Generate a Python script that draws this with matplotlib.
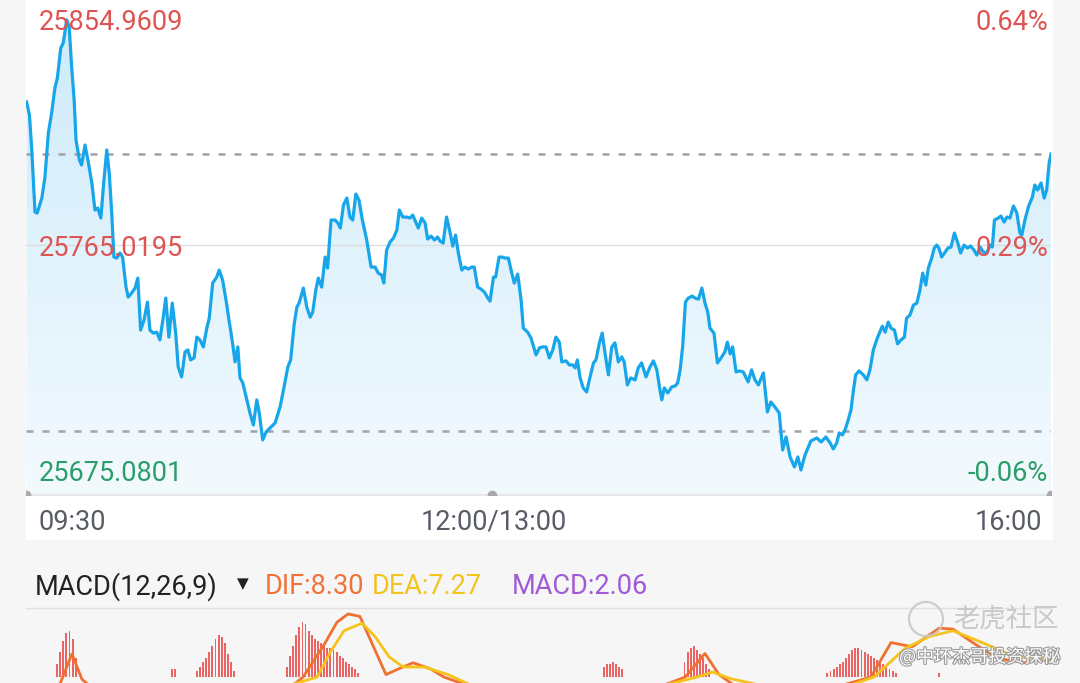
import numpy as np
import matplotlib
matplotlib.use("Agg")
import matplotlib.pyplot as plt
from matplotlib.patches import Rectangle, Ellipse
from matplotlib.colors import LinearSegmentedColormap
from matplotlib.transforms import offset_copy
import matplotlib.patheffects as pe

plt.rcParams['font.family'] = ['Roboto', 'DejaVu Sans']

# intraday price, minutes since 09:30 (lunch break removed: 150 = 12:00/13:00, 330 = 16:00)
t_min = [0.2, 1.1, 1.8, 2.9, 3.6, 5.1, 6.1, 7.2, 8.3, 9.3, 10.1, 11.2, 12.0, 13.1, 13.9, 14.7, 15.5, 16.1,
         17.2, 17.9, 19.0, 20.1, 21.2, 22.2, 23.1, 24.1, 25.1, 26.0, 26.8, 27.6, 28.3, 29.2, 30.3, 31.1,
         32.2, 32.9, 34.0, 35.1, 36.0, 36.9, 38.0, 39.1, 39.9, 41.0, 42.1, 43.1, 44.2, 45.0, 46.0, 47.1,
         48.2, 49.0, 50.1, 51.2, 52.1, 53.0, 54.1, 55.0, 56.0, 57.1, 58.2, 59.0, 60.1, 61.4, 62.2, 63.3,
         64.4, 65.5, 66.5, 67.3, 68.2, 68.9, 69.8, 71.1, 72.1, 73.2, 74.3, 75.1, 76.2, 77.3, 78.6, 80.2,
         81.8, 82.9, 84.3, 85.2, 86.3, 87.2, 87.9, 89.3, 90.4, 91.5, 92.3, 93.3, 94.1, 95.2, 96.3, 97.1,
         98.2, 99.5, 100.4, 101.2, 102.2, 103.3, 104.3, 105.2, 106.2, 107.2, 108.3, 109.7, 111.1, 112.4,
         113.4, 114.5, 115.2, 116.1, 117.2, 118.3, 119.4, 120.2, 121.3, 122.6, 123.6, 124.5, 125.2, 126.3,
         127.4, 128.5, 129.3, 130.4, 131.5, 132.5, 133.3, 134.3, 135.4, 136.5, 137.4, 138.3, 139.2, 140.3,
         141.3, 142.4, 143.5, 144.3, 145.4, 146.5, 147.6, 148.7, 149.4,
         150.5, 151.2, 152.3, 153.4, 154.2, 155.3, 156.4, 157.2, 158.3, 159.4, 160.1, 161.5, 162.6, 164.2,
         165.3, 166.4, 167.4, 168.5, 169.6, 170.6, 171.7, 172.5, 173.9, 174.9, 176.0, 176.8, 177.5, 178.4,
         179.4, 180.5, 181.6, 182.7, 183.5, 184.6, 185.5, 186.4, 187.5, 188.6, 189.6, 190.7, 191.8, 192.6,
         193.6, 194.7, 196.1, 197.1, 198.2, 199.6, 200.9, 202.0, 203.1, 204.1, 204.7, 205.5, 206.6, 207.9,
         209.0, 209.8, 210.6, 211.4, 212.3, 213.2, 214.5, 215.4, 216.5, 217.6, 218.6, 219.5, 220.2, 221.5,
         222.6, 224.0, 225.0, 225.8, 226.7, 227.5, 228.6, 229.7, 230.9, 232.5, 233.6, 234.7, 235.8, 237.4,
         238.7, 239.8, 241.1, 242.5, 243.6, 244.7, 246.0, 247.4, 248.5, 249.5, 250.8, 252.7, 254.6, 256.0,
         257.5, 258.9, 259.9, 261.0, 261.8, 262.8, 263.7, 264.7, 265.6, 266.4, 267.1, 268.2, 269.6, 270.7,
         271.7, 272.8, 274.2, 275.7, 276.6, 277.6, 278.5, 279.6, 280.6, 281.7, 282.8, 283.5, 284.6, 285.7,
         286.8, 287.8, 288.7, 289.7, 290.5, 291.6, 292.4, 293.2, 293.9, 294.8, 295.7, 296.8, 297.8, 298.9,
         300.0, 300.9, 302.0, 303.1, 304.1, 305.2, 306.1, 307.2, 308.2, 309.3, 310.4, 311.1, 311.8, 313.0,
         313.9, 314.9, 315.8, 316.8, 317.9, 319.0, 320.0, 320.6, 321.6, 322.7, 324.0, 324.8, 325.7, 326.8,
         327.8, 328.6, 329.4, 330.0]
price = [25822.2, 25817.0, 25804.2, 25778.2, 25777.8, 25783.8, 25792.2, 25809.8, 25818.2, 25827.8, 25831.8,
         25843.8, 25845.8, 25855.0, 25852.2, 25836.2, 25823.0, 25807.0, 25799.0, 25797.0, 25805.0, 25797.8,
         25789.8, 25779.0, 25779.8, 25775.8, 25791.0, 25803.0, 25793.8, 25777.8, 25760.2, 25759.8, 25761.8,
         25760.2, 25748.2, 25744.2, 25745.8, 25747.8, 25751.8, 25731.0, 25735.0, 25742.2, 25731.0, 25729.8,
         25730.2, 25727.1, 25736.2, 25743.8, 25728.2, 25741.8, 25729.8, 25716.3, 25712.3, 25722.3, 25723.1,
         25719.1, 25719.9, 25728.2, 25727.1, 25724.3, 25731.8, 25735.8, 25749.8, 25752.2, 25755.0, 25751.0,
         25743.0, 25733.8, 25725.9, 25718.3, 25724.3, 25711.9, 25709.9, 25703.1, 25697.9, 25693.1, 25703.1,
         25697.9, 25687.1, 25690.3, 25691.9, 25693.9, 25700.3, 25707.1, 25716.3, 25719.1, 25733.0, 25740.2,
         25741.8, 25747.8, 25740.2, 25736.2, 25738.2, 25747.0, 25751.8, 25748.2, 25760.2, 25755.8, 25775.0,
         25775.0, 25773.8, 25771.8, 25781.0, 25783.8, 25776.2, 25775.0, 25785.4, 25783.0, 25775.0, 25767.0,
         25756.2, 25756.2, 25753.8, 25753.0, 25749.8, 25763.0, 25766.2, 25767.8, 25771.0, 25779.0, 25776.2,
         25776.2, 25775.8, 25777.0, 25775.0, 25771.8, 25775.8, 25773.8, 25767.4, 25768.6, 25767.0, 25768.2,
         25766.6, 25765.8, 25776.2, 25770.2, 25764.6, 25769.0, 25761.8, 25755.0, 25756.2, 25755.4, 25756.2,
         25756.2, 25748.2, 25747.4, 25746.2, 25743.8, 25742.6,
         25752.2, 25752.2, 25760.2, 25760.2, 25759.8, 25759.8, 25753.8, 25749.8, 25753.4, 25743.0, 25731.8,
         25730.2, 25727.8, 25721.1, 25723.9, 25724.3, 25724.3, 25719.9, 25723.1, 25728.2, 25726.2, 25718.3,
         25718.7, 25717.1, 25717.1, 25715.9, 25719.1, 25711.9, 25707.9, 25706.3, 25712.3, 25717.9, 25719.1,
         25725.9, 25729.8, 25721.9, 25713.1, 25724.3, 25725.9, 25718.3, 25720.3, 25718.3, 25709.1, 25711.9,
         25711.1, 25715.9, 25717.9, 25712.3, 25716.3, 25718.7, 25715.1, 25707.1, 25703.1, 25707.9, 25705.9,
         25708.3, 25708.7, 25709.9, 25715.1, 25724.3, 25742.2, 25743.8, 25744.6, 25743.8, 25743.4, 25747.8,
         25741.8, 25738.2, 25731.8, 25729.8, 25717.9, 25720.3, 25722.3, 25726.2, 25721.5, 25724.3, 25714.3,
         25714.7, 25714.3, 25710.3, 25715.1, 25711.1, 25709.1, 25713.9, 25698.3, 25702.3, 25700.3, 25697.9,
         25683.1, 25688.3, 25680.3, 25676.3, 25680.3, 25675.1, 25681.1, 25686.7, 25687.9, 25686.3, 25688.3,
         25685.9, 25683.5, 25685.9, 25689.9, 25689.1, 25691.1, 25695.1, 25699.1, 25707.1, 25713.1, 25714.7,
         25713.1, 25711.1, 25715.1, 25723.1, 25728.2, 25732.6, 25730.2, 25734.2, 25731.8, 25731.0, 25725.5,
         25727.1, 25728.2, 25735.8, 25737.0, 25741.0, 25741.8, 25747.0, 25753.8, 25749.0, 25755.8, 25759.8,
         25763.8, 25765.0, 25763.8, 25760.2, 25761.8, 25763.8, 25764.2, 25769.8, 25765.8, 25761.8, 25765.0,
         25763.8, 25764.6, 25763.0, 25761.0, 25764.2, 25762.2, 25761.8, 25765.0, 25764.2, 25775.0, 25775.8,
         25776.6, 25774.2, 25776.2, 25775.8, 25780.6, 25777.8, 25769.8, 25769.0, 25775.0, 25780.2, 25784.2,
         25789.0, 25787.0, 25789.8, 25783.8, 25787.0, 25797.8, 25801.4]

high_val = 25854.9609
mid_val = 25765.0195
low_val = 25675.0801
prev_close = 25690.5
high_pct, mid_pct, low_pct = "0.64%", "0.29%", "-0.06%"
x_labels = ["09:30", "12:00/13:00", "16:00"]

# MACD(12,26,9) - only upper part of the panel is visible
hist_min = [10, 11, 12, 13, 14, 15, 16, 47, 48,
            55, 56, 57, 58, 59, 60, 61, 62, 63, 64, 65, 66, 67,
            84, 85, 86, 87, 88, 89, 90, 91, 92, 93, 94, 95, 96, 97, 98, 99, 100, 101, 102, 103, 104, 105, 106, 107,
            186, 187, 188, 189, 190, 191, 192,
            212, 213, 214, 215, 216, 217, 218, 219, 220,
            258, 259, 260, 261, 262, 263, 264, 265, 266, 267, 268, 269, 270, 271, 272, 273, 274, 275, 276, 277, 278, 279, 280,
            294]
hist_val = [6, 12, 17, 21, 22, 18, 9, 4, 4,
            3, 5, 7, 9, 12, 15, 18, 20, 19, 16, 11, 7, 3,
            5, 10, 15, 20, 24, 26, 25, 22, 20, 18, 17, 16, 15, 14, 14, 13, 12, 10, 9, 7, 6, 5, 4, 2,
            5, 6, 6, 7, 6, 5, 4,
            7, 12, 14, 15, 13, 11, 9, 6, 4,
            2, 3, 4, 5, 6, 7, 9, 11, 13, 14, 14, 13, 12, 11, 10, 9, 8, 7, 6, 5, 4, 3, 2,
            2]
dif_min = [8, 11, 14.8, 18, 22, 60, 85, 89.2, 95.9, 100.1, 103.7, 107.5, 111.4, 115.9, 120.1, 124.6, 130.1, 134.6,
           150, 205, 212.2, 218.6, 223.1, 230, 260, 272, 278.5, 285.3, 294, 298.4, 305.2, 312.9, 321.9, 327.4, 330]
dif_val = [-8, -3, 11, -1, -6, -8, -5, 0, 15.2, 26, 30, 28.8, 16, 1.2, 4.0, 6.8, 4.0, 0,
           -8, -4, 0, 11.2, 1.2, -6, -5, 0, 16.4, 14.4, 23.2, 22.8, 16.0, 8.8, 6.8, 8.8, 8.30]
dea_min = [80, 93.7, 98.2, 102.4, 108.2, 112.4, 116.9, 121.4, 128.1, 135.9, 145, 205, 216, 221, 227, 240,
           265, 273, 283, 290.7, 298.4, 305.2, 309.7, 318.4, 327.4, 330]
dea_val = [-6, 0, 12.4, 22.0, 25.6, 19.2, 9.6, 4.8, 4.8, 1.2, -5, -4, 0, 2.4, -0.8, -5,
           -4, 0, 13.6, 19.2, 22.0, 18.0, 15.2, 9.6, 8.8, 7.27]
macd_text = ["DIF:8.30", "DEA:7.27", "MACD:2.06"]

W, H = 1080, 683
fig = plt.figure(figsize=(W / 100, H / 100), dpi=100, facecolor='#f6f6f6')

def fx(px):
    return px / W

def fy(py):
    return 1 - py / H

# white card behind the price chart
fig.patches.append(Rectangle((fx(26), fy(540)), fx(1053 - 26), 540 / H, transform=fig.transFigure,
                             facecolor='white', edgecolor='none', zorder=-5))

ax = fig.add_axes([fx(26), fy(495), fx(1025), 495 / H])
ax.set_facecolor('none')
ymin, ymax = 25665.1, 25862.95
ax.set_xlim(0, 330)
ax.set_ylim(ymin, ymax)
ax.axis('off')

red = '#de5452'
green = '#2b9d6a'
blue = '#17a6ea'

# gradient fill under the line
poly = ax.fill_between(t_min, price, ymin, facecolor='none', edgecolor='none')
cmap = LinearSegmentedColormap.from_list('fade', ['#f3fafe', '#cdeafa'])
grad = np.linspace(0, 1, 256).reshape(-1, 1)
im = ax.imshow(grad, extent=[0, 330, ymin, ymax], origin='lower', aspect='auto', cmap=cmap, zorder=1)
im.set_clip_path(poly.get_paths()[0], transform=ax.transData)

ax.axhline(mid_val, color='#dcdcdc', lw=0.9, zorder=2)
ax.axhline(prev_close, color='#a3a3a3', lw=1.8, ls=(0, (2.8, 3.6)), zorder=2)
ax.axhline(price[-1], color='#a3a3a3', lw=1.8, ls=(0, (2.8, 3.6)), zorder=2)
ax.axhline(ymin, color='#e3e3e3', lw=1.2, zorder=2, clip_on=False)
ax.plot(t_min, price, color=blue, lw=2.3, zorder=4, solid_joinstyle='round')
ax.plot([0, 150, 330], [ymin] * 3, 'o', color='#a9a9a9', ms=6, zorder=5, clip_on=True)

fs = 19.5
lab_tr = offset_copy(ax.transData, fig=fig, y=-3, units='dots')
ax.text(4, high_val, f"{high_val:.4f}", color=red, fontsize=fs, va='center', ha='left', zorder=6, transform=lab_tr)
ax.text(4, mid_val, f"{mid_val:.4f}", color=red, fontsize=fs, va='center', ha='left', zorder=6, transform=lab_tr)
ax.text(4, low_val, f"{low_val:.4f}", color=green, fontsize=fs, va='center', ha='left', zorder=6, transform=lab_tr)
ax.text(329, high_val, high_pct, color=red, fontsize=fs, va='center', ha='right', zorder=6, transform=lab_tr)
ax.text(329, mid_val, mid_pct, color=red, fontsize=fs, va='center', ha='right', zorder=6, transform=lab_tr)
ax.text(329, low_val, low_pct, color=green, fontsize=fs, va='center', ha='right', zorder=6, transform=lab_tr)

lab_c = '#585c66'
fig.text(fx(38), fy(522), x_labels[0], color=lab_c, fontsize=fs, va='center', ha='left')
fig.text(fx(494), fy(522), x_labels[1], color=lab_c, fontsize=fs, va='center', ha='center')
fig.text(fx(1042), fy(522), x_labels[2], color=lab_c, fontsize=fs, va='center', ha='right')

# MACD header
fig.text(fx(35), fy(587), "MACD(12,26,9)", color='#222222', fontsize=fs, va='center', ha='left')
fig.text(fx(243), fy(584), "\u25bc", color='#222222', fontsize=11, va='center', ha='center',
         family=['DejaVu Sans'])
fig.text(fx(265), fy(587), macd_text[0], color='#f07237', fontsize=fs, va='center', ha='left')
fig.text(fx(372), fy(587), macd_text[1], color='#f2c41c', fontsize=fs, va='center', ha='left')
fig.text(fx(512), fy(587), macd_text[2], color='#a05ad6', fontsize=fs, va='center', ha='left')

# MACD panel, cut by the bottom of the image
mx = fig.add_axes([fx(26), fy(683), fx(1025), 75 / H])
mx.set_xlim(0, 330)
mx.set_ylim(-2.8, 32.8)
mx.axis('off')
mx.plot([0, 330], [32.8, 32.8], color='#e0e0e0', lw=1.0, clip_on=False)
mx.bar(hist_min, hist_val, width=0.6, color='#ea6464', zorder=2)
mx.plot(dif_min, dif_val, color='#f0702f', lw=2.0, zorder=3)
mx.plot(dea_min, dea_val, color='#f5c31a', lw=2.0, zorder=3)

# watermark
fig.patches.append(Ellipse((fx(926), fy(619)), 34 / W, 34 / H, transform=fig.transFigure, facecolor='none',
                           edgecolor='#c8c8c8', lw=1.6, alpha=0.9))
fig.text(fx(953), fy(619), "老虎社区", color='#c4c4c4', fontsize=19, va='center', ha='left',
         family=['Noto Sans CJK SC'], alpha=0.9)
fig.text(fx(1060), fy(657), "@中环杰哥投资探秘", color='white', fontsize=13, va='center', ha='right',
         family=['Noto Sans CJK SC'],
         path_effects=[pe.withStroke(linewidth=1.6, foreground='#9a9a9a')])

fig.savefig('out.png', dpi=100, facecolor=fig.get_facecolor())
